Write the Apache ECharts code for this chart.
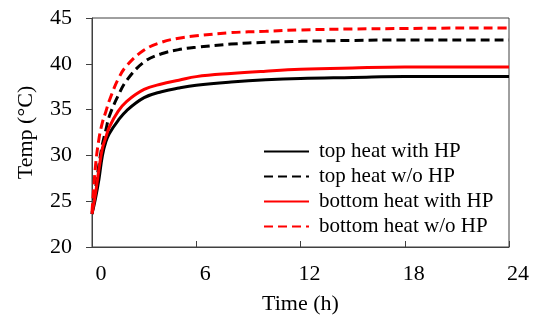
<!DOCTYPE html>
<html>
<head>
<meta charset="utf-8">
<script src="https://cdn.jsdelivr.net/npm/echarts@6/dist/echarts.min.js"></script>
<style>
html, body { margin: 0; padding: 0; background: #fff; }
#chart { width: 536px; height: 320px; }
</style>
</head>
<body>
<div id="chart"></div>
<script>
// time (h)
var times = [0, 0.2, 0.4, 0.6, 0.8, 1, 1.5, 2, 3, 4, 5, 6, 8, 10, 12, 15, 18, 21, 24];
var topWithHP = [23.6, 25.3, 27.4, 30.0, 31.5, 32.4, 33.8, 34.9, 36.3, 36.95, 37.35, 37.65, 38.0, 38.25, 38.4, 38.5, 38.6, 38.6, 38.6];
var topWoHP = [23.6, 26.3, 29.0, 31.2, 32.8, 34.3, 36.5, 38.2, 40.2, 41.1, 41.55, 41.8, 42.15, 42.35, 42.45, 42.55, 42.6, 42.6, 42.6];
var bottomWithHP = [23.6, 25.8, 28.5, 30.8, 32.0, 33.1, 34.8, 35.9, 37.2, 37.8, 38.2, 38.6, 38.95, 39.2, 39.4, 39.55, 39.65, 39.65, 39.65];
var bottomWoHP = [23.8, 28.8, 31.8, 33.6, 34.8, 36.0, 38.3, 39.8, 41.5, 42.35, 42.8, 43.05, 43.4, 43.55, 43.7, 43.8, 43.85, 43.9, 43.9];
var seriesNames = ['top heat with HP', 'top heat w/o HP', 'bottom heat with HP', 'bottom heat w/o HP'];

function pairs(ys) {
	var out = [];
	for (var i = 0; i < times.length; i++) {
		out.push([times[i], ys[i]]);
	}
	return out;
}

var font = '"Liberation Serif", "Times New Roman", serif';
var myChart = echarts.init(document.getElementById('chart'));

function line(name, ys, color, dashed) {
	return {
		name : name,
		type : 'line',
		smooth : 0.4,
		symbol : 'none',
		data : pairs(ys),
		lineStyle : {
			color : color,
			width : 3,
			type : dashed ? [9, 5] : 'solid'
		},
		itemStyle : { color : color }
	};
}

var option = {
	animation : false,
	grid : {
		left : 92,
		right : 27,
		top : 18,
		bottom : 70,
		show : true,
		borderColor : '#404040',
		borderWidth : 1
	},
	legend : {
		orient : 'vertical',
		left : 263,
		top : 141,
		padding : 0,
		itemWidth : 45,
		itemHeight : 14,
		itemGap : 4,
		itemStyle : { color : 'transparent', borderWidth : 0 },
		textStyle : {
			fontFamily : font,
			fontSize : 21,
			color : '#000',
			lineHeight : 21,
			padding : [0, 0, 0, 5]
		},
		data : seriesNames
	},
	xAxis : {
		type : 'value',
		min : 0,
		max : 24,
		interval : 6,
		name : 'Time (h)',
		nameLocation : 'middle',
		nameGap : 46,
		nameTextStyle : { fontFamily : font, fontSize : 22, color : '#000' },
		axisLine : { lineStyle : { color : '#404040', width : 1 } },
		axisTick : { inside : true, length : 6, lineStyle : { color : '#404040' } },
		axisLabel : {
			fontFamily : font,
			fontSize : 22,
			color : '#000',
			margin : 16,
			padding : [0, 0, 0, 18]
		},
		splitLine : { show : false }
	},
	yAxis : {
		type : 'value',
		min : 20,
		max : 45,
		interval : 5,
		name : 'Temp (°C)',
		nameLocation : 'middle',
		nameGap : 55,
		nameTextStyle : { fontFamily : font, fontSize : 22, color : '#000' },
		axisLine : { show : true, lineStyle : { color : '#404040', width : 1 } },
		axisTick : { show : true, length : 6, lineStyle : { color : '#404040' } },
		axisLabel : {
			fontFamily : font,
			fontSize : 22,
			color : '#000',
			margin : 20
		},
		splitLine : { show : false }
	},
	series : [
		line(seriesNames[0], topWithHP, '#000000', false),
		line(seriesNames[1], topWoHP, '#000000', true),
		line(seriesNames[2], bottomWithHP, '#ff0000', false),
		line(seriesNames[3], bottomWoHP, '#ff0000', true)
	]
};
myChart.setOption(option);
</script>
</body>
</html>
